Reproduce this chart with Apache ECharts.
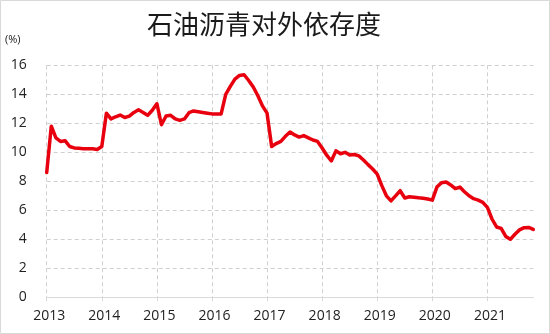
<!DOCTYPE html>
<html>
<head>
<meta charset="utf-8">
<script src="https://cdn.jsdelivr.net/npm/echarts@6/dist/echarts.min.js"></script>
<style>
  html, body { margin: 0; padding: 0; background: #fff; }
  #chart { width: 550px; height: 334px; }
</style>
</head>
<body>
<div id="chart"></div>
<script>
// Tick labels (years) and monthly categories from 2013-01 to 2021-11
const years = ['2013', '2014', '2015', '2016', '2017', '2018', '2019', '2020', '2021'];
const lastMonthOf2021 = 11;
const months = [];
years.forEach(function (y, k) {
  const n = (k === years.length - 1) ? lastMonthOf2021 : 12;
  for (let m = 1; m <= n; m++) months.push(y + '-' + (m < 10 ? '0' + m : m));
});

// 石油沥青对外依存度 (%), monthly
const dependence = [
  8.6, 11.8, 11.0, 10.75, 10.8, 10.4, 10.3, 10.28, 10.25, 10.25, 10.25, 10.2,
  10.4, 12.7, 12.3, 12.45, 12.57, 12.4, 12.5, 12.75, 12.93, 12.75, 12.55, 12.9,
  13.35, 11.9, 12.5, 12.55, 12.3, 12.2, 12.3, 12.73, 12.85, 12.8, 12.75, 12.7,
  12.65, 12.65, 12.65, 14.0, 14.55, 15.05, 15.3, 15.35, 14.95, 14.5, 13.9, 13.2,
  12.7, 10.4, 10.6, 10.75, 11.1, 11.4, 11.2, 11.05, 11.15, 11.0, 10.85, 10.75,
  10.3, 9.8, 9.4, 10.1, 9.9, 10.0, 9.82, 9.85, 9.75, 9.47, 9.15, 8.85,
  8.5, 7.7, 7.0, 6.65, 7.0, 7.35, 6.85, 6.93, 6.9, 6.86, 6.83, 6.78,
  6.7, 7.6, 7.9, 7.95, 7.75, 7.5, 7.6, 7.28, 7.0, 6.8, 6.7, 6.55,
  6.2, 5.4, 4.85, 4.75, 4.2, 4.0, 4.35, 4.65, 4.8, 4.82, 4.68
];

const title = '石油沥青对外依存度';
const unit = '(%)';

const chart = echarts.init(document.getElementById('chart'), null, { renderer: 'canvas' });
const isYearStart = function (i) { return i % 12 === 0; };

chart.setOption({
  animation: false,
  backgroundColor: '#ffffff',
  title: {
    text: title,
    left: 259,
    textAlign: 'center',
    top: 6,
    textStyle: {
      fontFamily: 'Noto Sans CJK SC',
      fontSize: 26,
      fontWeight: 'normal',
      color: '#1a1a1a'
    }
  },
  graphic: [
    {
      type: 'rect',
      shape: { x: 0.5, y: 0.5, width: 549, height: 333 },
      style: { fill: 'none', stroke: '#d9d9d9', lineWidth: 1 },
      silent: true
    },
    {
      type: 'text',
      left: 5,
      top: 34,
      style: { text: unit, font: '11px "Open Sans"', fill: '#222' }
    }
  ],
  grid: { left: 46.7, right: 16.7, top: 65.3, bottom: 36.7, containLabel: false },
  xAxis: {
    type: 'category',
    data: months,
    boundaryGap: false,
    axisLine: { show: true, lineStyle: { color: '#d9d9d9', width: 1 } },
    axisTick: {
      show: true,
      interval: isYearStart,
      length: 4,
      lineStyle: { color: '#d9d9d9' }
    },
    axisLabel: {
      interval: isYearStart,
      formatter: function (v) { return v.slice(0, 4); },
      fontFamily: 'Open Sans',
      fontSize: 14,
      color: '#222',
      margin: 12,
      padding: [0, 0, 0, 5]
    },
    splitLine: {
      show: true,
      interval: isYearStart,
      lineStyle: { color: '#d0d0d0', type: [4, 3], width: 1 }
    }
  },
  yAxis: {
    type: 'value',
    min: 0,
    max: 16,
    interval: 2,
    axisLine: { show: false },
    axisTick: { show: false },
    axisLabel: {
      fontFamily: 'Open Sans',
      fontSize: 14,
      color: '#222',
      margin: 20
    },
    splitLine: {
      show: true,
      lineStyle: { color: '#d0d0d0', type: [4, 3], width: 1 }
    }
  },
  series: [{
    type: 'line',
    data: dependence,
    showSymbol: false,
    smooth: false,
    lineStyle: { color: '#e8000e', width: 3.5, join: 'round', cap: 'round' },
    itemStyle: { color: '#e8000e' }
  }]
});
</script>
</body>
</html>
